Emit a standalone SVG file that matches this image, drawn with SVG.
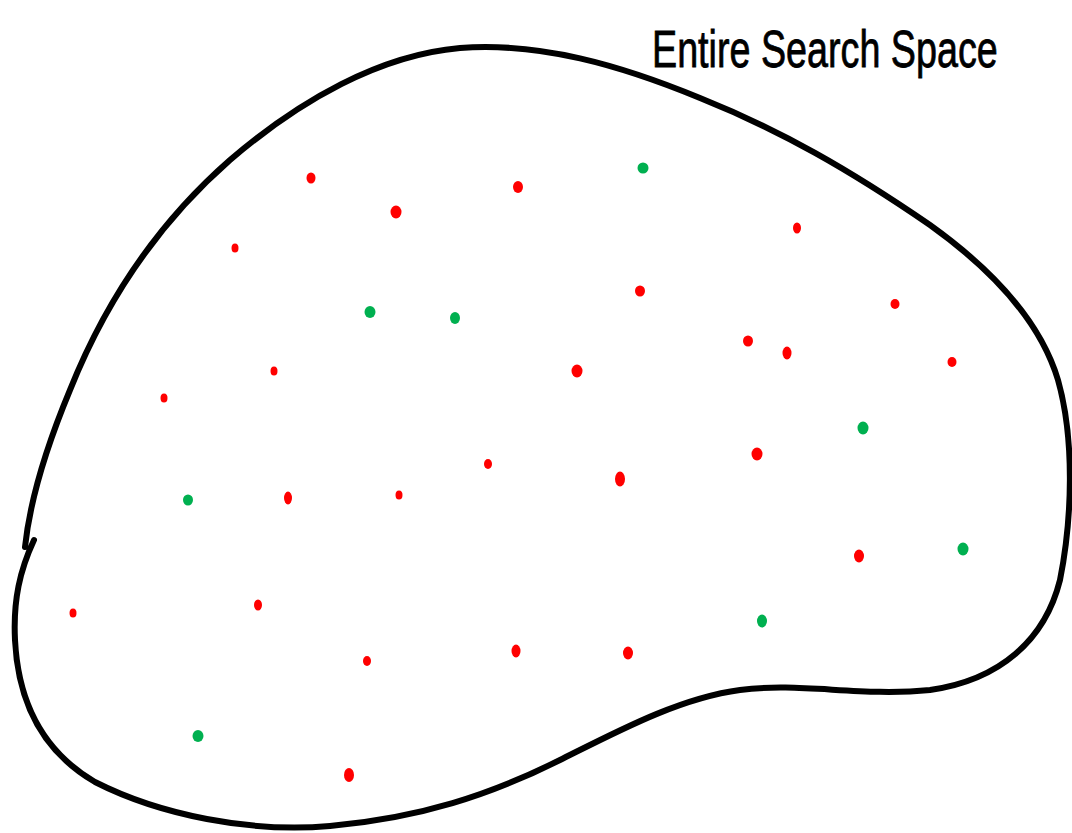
<svg xmlns="http://www.w3.org/2000/svg" width="1072" height="833" viewBox="0 0 1072 833">
<style>
.outline{fill:none;stroke:#000;stroke-width:6;stroke-linecap:round;stroke-linejoin:round}
.r{fill:#ff0000}
.g{fill:#00b050}
.label{font-family:"Liberation Sans",Arial,sans-serif;font-size:52px;fill:#000;stroke:#000;stroke-width:0.8}
</style>
<rect width="1072" height="833" fill="#fff"/>
<g id="search-space">
<path class="outline" d="M 25 547 C 30 500, 45 450, 70 390 C 100 315, 150 230, 230 160 C 300 100, 380 55, 460 48 C 540 42, 620 65, 700 98 C 780 130, 850 170, 930 225 C 990 268, 1040 320, 1058 380 C 1075 440, 1072 520, 1060 580 C 1045 640, 1000 680, 930 690 C 860 697, 800 682, 740 690 C 680 698, 620 730, 560 760 C 490 795, 420 818, 330 826 C 250 833, 160 815, 95 782 C 40 750, 18 700, 15 640 C 13 600, 20 570, 34 540"/>
<text class="label" transform="translate(652 67) scale(0.725 1)" x="0" y="0">Entire Search Space</text>
</g>
<g id="red-points">
<ellipse class="r" cx="311" cy="178" rx="4.5" ry="5.5"/>
<ellipse class="r" cx="396" cy="212" rx="5.5" ry="6.5"/>
<ellipse class="r" cx="518" cy="187" rx="5" ry="6"/>
<ellipse class="r" cx="235" cy="248" rx="3.5" ry="4.5"/>
<ellipse class="r" cx="797" cy="228" rx="4" ry="5.5"/>
<ellipse class="r" cx="640" cy="291" rx="5" ry="5.5"/>
<ellipse class="r" cx="895" cy="304" rx="4.5" ry="5"/>
<ellipse class="r" cx="748" cy="341" rx="5" ry="5.5"/>
<ellipse class="r" cx="787" cy="353" rx="4.5" ry="6.5"/>
<ellipse class="r" cx="952" cy="362" rx="4.5" ry="5"/>
<ellipse class="r" cx="577" cy="371" rx="5.5" ry="6.5"/>
<ellipse class="r" cx="274" cy="371" rx="3.5" ry="4.5"/>
<ellipse class="r" cx="164" cy="398" rx="3.5" ry="4.5"/>
<ellipse class="r" cx="488" cy="464" rx="4" ry="5"/>
<ellipse class="r" cx="757" cy="454" rx="5.5" ry="6.5"/>
<ellipse class="r" cx="620" cy="479" rx="5" ry="7.5"/>
<ellipse class="r" cx="288" cy="498" rx="4" ry="6.5"/>
<ellipse class="r" cx="399" cy="495" rx="3.5" ry="4.5"/>
<ellipse class="r" cx="859" cy="556" rx="5" ry="6.5"/>
<ellipse class="r" cx="73" cy="613" rx="3.5" ry="4.5"/>
<ellipse class="r" cx="258" cy="605" rx="4" ry="5.5"/>
<ellipse class="r" cx="367" cy="661" rx="4" ry="5"/>
<ellipse class="r" cx="516" cy="651" rx="4.5" ry="6.5"/>
<ellipse class="r" cx="628" cy="653" rx="5" ry="6.5"/>
<ellipse class="r" cx="349" cy="775" rx="5" ry="7"/>
</g>
<g id="green-points">
<ellipse class="g" cx="643" cy="168" rx="5.5" ry="5.5"/>
<ellipse class="g" cx="370" cy="312" rx="5.5" ry="6"/>
<ellipse class="g" cx="455" cy="318" rx="5" ry="6"/>
<ellipse class="g" cx="863" cy="428" rx="5.5" ry="6.5"/>
<ellipse class="g" cx="188" cy="500" rx="5" ry="5.5"/>
<ellipse class="g" cx="963" cy="549" rx="5.5" ry="6.5"/>
<ellipse class="g" cx="762" cy="621" rx="5" ry="6.5"/>
<ellipse class="g" cx="198" cy="736" rx="5.5" ry="6"/>
</g>
</svg>
